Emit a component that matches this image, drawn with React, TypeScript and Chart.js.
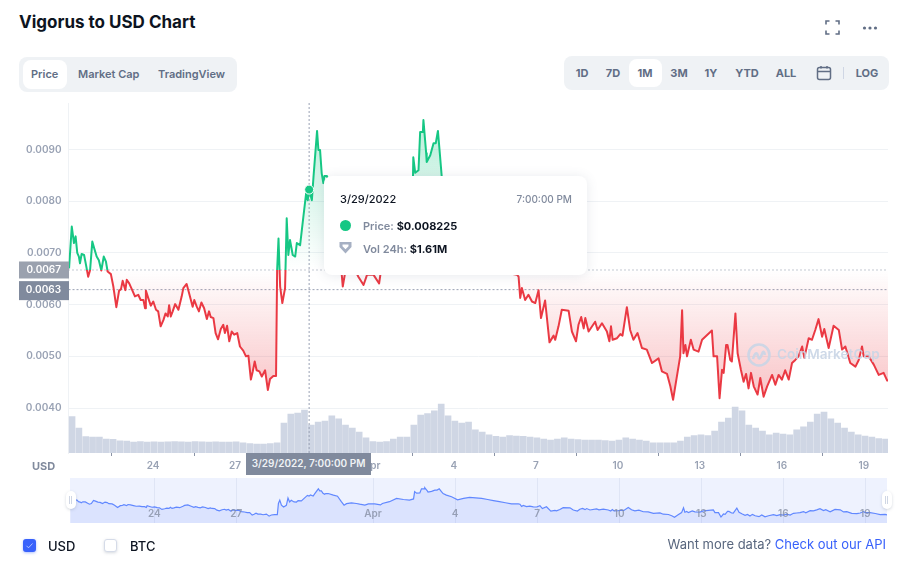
import React, { useEffect, useRef } from "react";
import { Chart, registerables } from "chart.js";

Chart.register(...registerables);

const FONT = "Inter, 'Noto Sans', sans-serif";

// Day numbers count on from March: 24 = Mar 24, 32 = Apr 1, 50 = Apr 19.
const priceDays = [
  20.93, 21.03, 21.11, 21.17, 21.23, 21.29, 21.33, 21.39, 21.48, 21.55, 21.63, 21.7, 21.78, 21.85, 21.94, 22.02, 22.11, 22.2, 22.28, 22.34,
  22.46, 22.55, 22.66, 22.76, 22.83, 22.89, 22.99, 23.04, 23.13, 23.24, 23.34, 23.46, 23.55, 23.65, 23.71, 23.74, 23.83, 23.92, 24.01, 24.11,
  24.19, 24.28, 24.38, 24.46, 24.54, 24.59, 24.65, 24.72, 24.81, 24.93, 25.05, 25.11, 25.23, 25.35, 25.45, 25.51, 25.6, 25.68, 25.77, 25.87,
  25.97, 26.05, 26.11, 26.21, 26.29, 26.38, 26.48, 26.57, 26.63, 26.71, 26.79, 26.88, 26.97, 27.08, 27.18, 27.3, 27.4, 27.49, 27.58, 27.65,
  27.72, 27.79, 27.89, 27.98, 28.1, 28.2, 28.28, 28.4, 28.5, 28.54, 28.59, 28.65, 28.73, 28.83, 28.89, 28.95, 29.01, 29.11, 29.2, 29.26,
  29.38, 29.5, 29.6, 29.66, 29.71, 29.81, 29.87, 30.0, 30.05, 30.11, 30.17, 30.23, 30.27, 30.36, 30.55, 30.7, 30.84, 30.91, 30.94, 31.03,
  31.21, 31.39, 31.51, 31.7, 31.83, 32.06, 32.27, 32.34, 32.6, 32.86, 33.11, 33.33, 33.48, 33.52, 33.59, 33.71, 33.77, 33.87, 33.89, 33.99,
  34.01, 34.14, 34.26, 34.34, 34.42, 34.5, 34.56, 34.68, 34.87, 35.09, 35.31, 35.53, 35.75, 35.97, 36.19, 36.4, 36.62, 36.84, 37.06, 37.31,
  37.37, 37.43, 37.49, 37.61, 37.73, 37.86, 37.98, 38.1, 38.19, 38.34, 38.5, 38.65, 38.71, 38.83, 38.95, 39.2, 39.32, 39.47, 39.56, 39.66,
  39.75, 39.81, 39.93, 40.17, 40.26, 40.42, 40.6, 40.69, 40.75, 40.81, 40.97, 41.09, 41.17, 41.33, 41.45, 41.57, 41.72, 41.88, 42.06, 42.25,
  42.49, 42.61, 42.8, 42.92, 43.02, 43.14, 43.28, 43.35, 43.4, 43.47, 43.53, 43.67, 43.77, 43.95, 44.08, 44.44, 44.5, 44.63, 44.72, 44.81,
  44.87, 44.96, 45.01, 45.11, 45.17, 45.3, 45.38, 45.5, 45.6, 45.69, 45.78, 45.87, 45.97, 46.11, 46.21, 46.33, 46.46, 46.64, 46.76, 46.88,
  47.0, 47.12, 47.25, 47.37, 47.49, 47.61, 47.74, 47.82, 47.98, 48.1, 48.22, 48.34, 48.47, 48.55, 48.71, 48.89, 49.08, 49.2, 49.32, 49.5,
  49.69, 49.81, 49.93, 49.99, 50.17, 50.36, 50.54, 50.72, 50.85, 50.89,
];

// Price in thousandths of a US dollar.
const priceMilli = [
  6.7, 7.51, 7.19, 7.32, 7.0, 6.93, 6.8, 6.98, 6.96, 6.77, 6.54, 6.67, 7.22, 7.09, 6.93, 6.86, 6.66, 6.93, 6.83, 6.64,
  6.59, 6.35, 5.95, 6.27, 6.3, 6.46, 6.28, 6.48, 6.41, 6.28, 6.16, 6.19, 6.09, 6.09, 5.93, 6.27, 6.12, 5.98, 6.06, 5.9,
  5.87, 5.58, 5.7, 5.83, 5.77, 5.99, 5.77, 5.87, 6.01, 5.9, 6.16, 6.32, 6.4, 6.16, 5.96, 6.09, 5.96, 5.87, 6.04, 5.93,
  5.72, 5.87, 5.76, 5.74, 5.45, 5.33, 5.53, 5.61, 5.45, 5.59, 5.29, 5.48, 5.42, 5.45, 5.19, 5.11, 5.0, 5.01, 4.55, 4.71,
  4.9, 4.73, 4.71, 4.61, 4.73, 4.35, 4.56, 4.62, 4.62, 6.67, 7.28, 6.35, 6.03, 6.32, 7.67, 6.96, 7.25, 6.96, 6.93, 7.19,
  7.15, 7.7, 8.15, 8.02, 8.225, 8.02, 8.47, 9.36, 8.99, 8.99, 8.54, 8.35, 8.49, 8.49, 8.2, 8.0, 7.0, 6.54, 6.35, 6.63,
  6.77, 6.67, 6.54, 6.38, 6.58, 6.58, 6.41, 6.67, 7.0, 7.6, 7.4, 7.3, 7.5, 8.85, 8.55, 8.6, 9.34, 9.34, 9.57, 8.93,
  8.76, 8.89, 9.12, 9.12, 9.36, 8.86, 8.47, 8.2, 7.9, 7.35, 7.6, 7.8, 7.7, 7.6, 7.4, 7.2, 7.0, 6.8, 6.6, 6.58,
  6.54, 6.13, 6.32, 6.09, 6.19, 6.06, 6.03, 6.28, 5.74, 6.08, 5.27, 5.4, 5.32, 5.58, 5.9, 5.88, 5.48, 5.29, 5.61, 5.76,
  5.54, 5.74, 5.48, 5.67, 5.51, 5.64, 5.48, 5.29, 5.58, 5.32, 5.35, 5.43, 5.4, 5.95, 5.51, 5.32, 5.45, 5.16, 5.13, 4.87,
  4.96, 4.71, 4.66, 4.42, 4.16, 4.55, 5.0, 5.89, 5.06, 5.22, 5.0, 5.32, 5.13, 5.09, 5.32, 5.5, 5.0, 5.0, 4.19, 4.74,
  4.68, 5.22, 5.22, 4.93, 4.9, 5.83, 5.06, 4.74, 4.51, 4.66, 4.38, 4.68, 4.42, 4.26, 4.58, 4.22, 4.42, 4.64, 4.45, 4.64,
  4.55, 4.73, 4.55, 4.87, 4.93, 5.0, 5.19, 4.97, 5.35, 5.32, 5.51, 5.72, 5.38, 5.53, 5.16, 5.59, 5.51, 5.13, 5.19, 4.87,
  4.8, 4.93, 5.19, 5.0, 5.0, 4.84, 4.64, 4.68, 4.53, 4.53,
];

// One volume bar every six hours, from the first day onward.
const volumeStartDay = 21.04;
const volumeStepDays = 0.25;
const volumeMillions = [
  1.95, 1.34, 0.88, 0.86, 0.86, 0.75, 0.73, 0.66, 0.64, 0.59, 0.62, 0.59, 0.6, 0.58, 0.6, 0.61, 0.6, 0.59, 0.61, 0.6,
  0.59, 0.6, 0.59, 0.58, 0.6, 0.55, 0.51, 0.48, 0.48, 0.5, 0.54, 1.61, 2.09, 2.15, 2.31, 1.5, 1.66, 1.72, 1.99, 1.83,
  1.5, 1.34, 1.13, 0.81, 0.61, 0.59, 0.62, 0.75, 0.86, 0.86, 1.5, 2.04, 2.12, 2.26, 2.63, 1.99, 1.72, 1.61, 1.66, 1.24,
  1.13, 0.97, 0.89, 0.86, 0.94, 0.91, 0.89, 0.86, 0.81, 0.75, 0.7, 0.75, 0.81, 0.75, 0.72, 0.7, 0.7, 0.7, 0.67, 0.64,
  0.7, 0.81, 0.75, 0.7, 0.64, 0.54, 0.54, 0.54, 0.54, 0.64, 0.86, 0.94, 0.97, 0.94, 1.18, 1.66, 1.88, 2.47, 2.26, 1.5,
  1.34, 1.18, 0.97, 1.07, 1.02, 0.97, 1.24, 1.4, 1.66, 2.09, 2.2, 1.83, 1.61, 1.34, 1.13, 0.97, 0.91, 0.86, 0.78, 0.75,
];

const priceTicks = [0.004, 0.005, 0.006, 0.007, 0.008, 0.009];
const dayTicks = [24, 27, 32, 35, 38, 41, 44, 47, 50];
const dayLabels = ["24", "27", "Apr", "4", "7", "10", "13", "16", "19"];
const basePrice = 0.00667;
const lastPrice = 0.00629;
const hoverDay = 29.71;
const hoverPrice = 0.008225;
const priceMin = 0.00313;
const priceMax = 0.0099;
const dayMin = 20.91;
const dayMax = 50.88;
const volumeMax = 18.8;
const navDayMin = 20.92;
const navDayMax = 50.79;
const navPriceMin = 0.0031;
const navPriceMax = 0.01133;
const rangeButtons = [
  ["1D", 582],
  ["7D", 613],
  ["1M", 645],
  ["3M", 679],
  ["1Y", 711],
  ["YTD", 747],
  ["ALL", 786],
] as const;

const GREEN = "#16C784";
const RED = "#EA3943";
const TICK = "#99A2B4";

const pricePoints = priceDays.map((x, i) => ({ x, y: priceMilli[i] / 1000 }));
const volumePoints = volumeMillions.map((y, i) => ({ x: volumeStartDay + i * volumeStepDays, y }));
const labelFor = (v: number) => {
  const i = dayTicks.indexOf(v);
  return i >= 0 ? dayLabels[i] : "";
};

const priceTagPlugin = {
  id: "priceTags",
  afterDraw(chart: any) {
    const { ctx, scales } = chart;
    const tags: [number, string, number, number][] = [
      [basePrice, "#9AA1AE", 8.5, 8.5],
      [lastPrice, "#808A9D", 8.5, 10.5],
    ];
    ctx.save();
    for (const [value, colour, up, down] of tags) {
      const y = scales.y.getPixelForValue(value);
      ctx.fillStyle = colour;
      ctx.fillRect(19, y - up, 50, up + down);
      ctx.fillStyle = "#fff";
      ctx.font = `600 10px ${FONT}`;
      ctx.textAlign = "right";
      ctx.textBaseline = "middle";
      ctx.fillText(value.toFixed(4), 61, y + 0.5);
    }
    ctx.restore();
  },
};

const text = (
  left: number,
  top: number,
  content: React.ReactNode,
  style: React.CSSProperties = {}
) => (
  <div
    style={{
      position: "absolute",
      left,
      top,
      whiteSpace: "nowrap",
      lineHeight: "16px",
      ...style,
    }}
  >
    {content}
  </div>
);

export default function App() {
  const mainRef = useRef<HTMLCanvasElement>(null);
  const navRef = useRef<HTMLCanvasElement>(null);

  useEffect(() => {
    const main = new Chart(mainRef.current!, {
      type: "line",
      plugins: [priceTagPlugin],
      data: {
        datasets: [
          {
            type: "line",
            data: [{ x: hoverDay, y: hoverPrice }],
            order: 0,
            showLine: false,
            pointRadius: 4.5,
            pointBackgroundColor: GREEN,
            pointBorderColor: "#fff",
            pointBorderWidth: 1,
          },
          {
            type: "line",
            data: pricePoints,
            order: 1,
            borderWidth: 2,
            borderColor: RED,
            pointRadius: 0,
            tension: 0,
            borderJoinStyle: "round",
            fill: false,
          },
          {
            type: "line",
            data: [
              { x: dayMin, y: basePrice },
              { x: dayMax, y: basePrice },
            ],
            order: 2,
            borderColor: "#8A93A6",
            borderWidth: 1,
            borderDash: [1, 3],
            pointRadius: 0,
          },
          {
            type: "line",
            data: [
              { x: dayMin, y: lastPrice },
              { x: dayMax, y: lastPrice },
            ],
            order: 2,
            borderColor: "#9AA2B4",
            borderWidth: 1,
            borderDash: [2, 2],
            pointRadius: 0,
          },
          {
            type: "line",
            data: [
              { x: hoverDay, y: priceMin },
              { x: hoverDay, y: priceMax },
            ],
            order: 2,
            borderColor: "#9AA2B4",
            borderWidth: 1,
            borderDash: [2, 2],
            pointRadius: 0,
          },
          {
            type: "bar",
            data: volumePoints,
            yAxisID: "y2",
            order: 5,
            backgroundColor: "#CFD6E4",
            barThickness: 6,
            grouped: false,
          },
        ],
      } as any,
      options: {
        responsive: false,
        animation: false,
        events: [],
        layout: { padding: { left: 0, right: 18, top: 103, bottom: 78 } },
        plugins: { legend: { display: false }, tooltip: { enabled: false } },
        scales: {
          x: {
            type: "linear",
            offset: false,
            min: dayMin,
            max: dayMax,
            afterBuildTicks: (s: any) => {
              s.ticks = dayTicks.map((value) => ({ value }));
            },
            afterFit: (s: any) => {
              s.height = 30;
            },
            grid: { drawOnChartArea: false, drawTicks: true, tickLength: 3, color: "#8A93A6" },
            border: { display: false },
            ticks: {
              autoSkip: false,
              maxRotation: 0,
              padding: 4,
              color: TICK,
              font: { family: FONT, size: 10, weight: 600 },
              callback: (v: any) => labelFor(v),
            },
          },
          y: {
            min: priceMin,
            max: priceMax,
            afterBuildTicks: (s: any) => {
              s.ticks = priceTicks.map((value) => ({ value }));
            },
            afterFit: (s: any) => {
              s.width = 68.5;
            },
            grid: { color: "#EFF2F5", drawTicks: false },
            border: { display: true, color: "#EFF2F5" },
            ticks: {
              padding: 7,
              color: TICK,
              font: { family: FONT, size: 10, weight: 600 },
              callback: (v: any) => Number(v).toFixed(4),
            },
          },
          y2: { display: false, min: 0, max: volumeMax },
        },
      } as any,
    });

    // Gradients need the finished scales, so they are applied in a second pass.
    const c = main.ctx;
    const { chartArea, scales } = main;
    const baseY = scales.y.getPixelForValue(basePrice);
    const stroke = c.createLinearGradient(0, chartArea.top, 0, chartArea.bottom);
    const stop = (baseY - chartArea.top) / (chartArea.bottom - chartArea.top);
    stroke.addColorStop(0, GREEN);
    stroke.addColorStop(stop, GREEN);
    stroke.addColorStop(stop, RED);
    stroke.addColorStop(1, RED);
    const above = c.createLinearGradient(0, scales.y.getPixelForValue(0.0096), 0, baseY);
    above.addColorStop(0, "rgba(22,199,132,0.3)");
    above.addColorStop(1, "rgba(22,199,132,0)");
    const below = c.createLinearGradient(0, baseY, 0, scales.y.getPixelForValue(0.0042));
    below.addColorStop(0, "rgba(234,57,67,0)");
    below.addColorStop(1, "rgba(234,57,67,0.3)");
    const ds = main.data.datasets[1] as any;
    ds.borderColor = stroke;
    ds.fill = { target: { value: basePrice }, above, below };
    main.update();

    const nav = new Chart(navRef.current!, {
      type: "line",
      data: {
        datasets: [
          {
            data: pricePoints,
            borderColor: "#6188FF",
            borderWidth: 1.2,
            pointRadius: 0,
            tension: 0,
            fill: "start",
            backgroundColor: "rgba(56,97,251,0.1)",
          },
        ],
      } as any,
      options: {
        responsive: false,
        animation: false,
        events: [],
        layout: { padding: { left: 70, right: 19, top: 0, bottom: 0 } },
        plugins: { legend: { display: false }, tooltip: { enabled: false } },
        scales: {
          x: {
            type: "linear",
            min: navDayMin,
            max: navDayMax,
            afterBuildTicks: (s: any) => {
              s.ticks = dayTicks.map((value) => ({ value }));
            },
            afterFit: (s: any) => {
              s.height = 0;
            },
            grid: { color: "rgba(190,200,225,0.3)", drawTicks: false },
            border: { display: false },
            ticks: {
              autoSkip: false,
              maxRotation: 0,
              mirror: true,
              padding: 3,
              z: 1,
              color: "rgba(128,138,157,0.75)",
              font: { family: FONT, size: 10, weight: 600 },
              callback: (v: any) => labelFor(v),
            },
          },
          y: { display: false, min: navPriceMin, max: navPriceMax },
        },
      } as any,
    });

    return () => {
      main.destroy();
      nav.destroy();
    };
  }, []);

  const tabStyle: React.CSSProperties = { fontSize: 11, fontWeight: 600, color: "#616E85" };
  const rangeStyle: React.CSSProperties = {
    fontSize: 11,
    fontWeight: 700,
    color: "#616E85",
    transform: "translateX(-50%)",
  };
  const handle = (left: number, width: number) => (
    <div
      style={{
        position: "absolute",
        left,
        top: 491,
        width,
        height: 18,
        background: "#fff",
        borderRadius: 5,
        boxShadow: "0 1px 3px rgba(88,102,126,0.25)",
      }}
    >
      <div style={{ position: "absolute", left: 3, top: 5, width: 1, height: 8, background: "#CFD6E4" }} />
      <div style={{ position: "absolute", left: 5, top: 5, width: 1, height: 8, background: "#CFD6E4" }} />
    </div>
  );

  return (
    <div
      style={{
        position: "fixed",
        left: 0,
        top: 0,
        width: 906,
        height: 561,
        overflow: "hidden",
        background: "#fff",
        fontFamily: FONT,
      }}
    >
      {text(19, 13, "Vigorus to USD Chart", { fontSize: 17, fontWeight: 700, color: "#0D1421", lineHeight: "18px" })}

      <svg style={{ position: "absolute", left: 825, top: 20 }} width="15" height="15" fill="none" stroke="#616E85" strokeWidth="1.6">
        <path d="M1 4.5V1H4.5M10.5 1H14V4.5M14 10.5V14H10.5M4.5 14H1V10.5" />
      </svg>
      <svg style={{ position: "absolute", left: 862, top: 25 }} width="16" height="6" fill="#616E85">
        <circle cx="2.5" cy="3" r="1.6" />
        <circle cx="8" cy="3" r="1.6" />
        <circle cx="13.5" cy="3" r="1.6" />
      </svg>

      <div style={{ position: "absolute", left: 19, top: 57, width: 218, height: 35, background: "#EFF2F5", borderRadius: 8 }} />
      <div style={{ position: "absolute", left: 23, top: 60, width: 44, height: 29, background: "#fff", borderRadius: 8 }} />
      {text(31, 66, "Price", tabStyle)}
      {text(78, 66, "Market Cap", tabStyle)}
      {text(158, 66, "TradingView", tabStyle)}

      <div style={{ position: "absolute", left: 564, top: 56, width: 325, height: 34, background: "#EFF2F5", borderRadius: 8 }} />
      <div style={{ position: "absolute", left: 629, top: 59, width: 33, height: 28, background: "#fff", borderRadius: 8 }} />
      {rangeButtons.map(([label, x]) => (
        <React.Fragment key={label}>{text(x, 65, label, rangeStyle)}</React.Fragment>
      ))}
      <svg style={{ position: "absolute", left: 816, top: 65 }} width="16" height="16" fill="none" stroke="#616E85" strokeWidth="1.5">
        <rect x="1.5" y="2.5" width="13" height="12" rx="2" />
        <path d="M1.5 6.5H14.5M5 1V3.5M11 1V3.5" />
      </svg>
      <div style={{ position: "absolute", left: 843, top: 67, width: 1, height: 12, background: "#CFD6E4" }} />
      {text(867, 65, "LOG", rangeStyle)}

      <canvas ref={mainRef} width={906} height={561} style={{ position: "absolute", left: 0, top: 0, width: 906, height: 561 }} />

      <svg style={{ position: "absolute", left: 747, top: 343, opacity: 0.9 }} width="24" height="24" fill="none" stroke="#C9D5E6" strokeWidth="2.6">
        <circle cx="12" cy="12" r="10.5" />
        <path d="M6 16C8 9 10 9 11 13C12 16.5 13 16.5 15 11C16 8 17 8 18 12" />
      </svg>
      {text(777, 346, "CoinMarketCap", { fontSize: 13.6, fontWeight: 600, color: "#C9D5E6", opacity: 0.9 })}

      <div
        style={{
          position: "absolute",
          left: 324,
          top: 176,
          width: 263,
          height: 99,
          background: "#fff",
          borderRadius: 8,
          boxShadow: "0 1px 12px rgba(88,102,126,0.14)",
        }}
      />
      {text(340, 191, "3/29/2022", { fontSize: 11, fontWeight: 500, color: "#0D1421" })}
      {text(572, 191, "7:00:00 PM", { fontSize: 10, fontWeight: 500, color: "#808A9D", transform: "translateX(-100%)" })}
      <div style={{ position: "absolute", left: 340, top: 220, width: 11, height: 11, borderRadius: "50%", background: GREEN }} />
      {text(
        363,
        218,
        <>
          <span style={{ color: "#808A9D" }}>Price: </span>
          <span style={{ color: "#0D1421", fontWeight: 700 }}>$0.008225</span>
        </>,
        { fontSize: 11, fontWeight: 600 }
      )}
      <svg style={{ position: "absolute", left: 339, top: 241 }} width="13" height="14" fill="#A6B0C3">
        <path fillRule="evenodd" d="M0.5 1H12.5V6L6.5 12.5L0.5 6ZM3.5 3.5V5.2L6.5 8.3L9.5 5.2V3.5Z" />
      </svg>
      {text(
        363,
        241,
        <>
          <span style={{ color: "#808A9D" }}>Vol 24h: </span>
          <span style={{ color: "#0D1421", fontWeight: 700 }}>$1.61M</span>
        </>,
        { fontSize: 11, fontWeight: 600 }
      )}

      {text(32, 458, "USD", { fontSize: 11, fontWeight: 700, color: "#808A9D" })}
      <div
        style={{
          position: "absolute",
          left: 246,
          top: 453,
          width: 125,
          height: 22,
          background: "#808A9D",
          color: "#EFF2F5",
          fontSize: 10,
          fontWeight: 600,
          lineHeight: "21px",
          textAlign: "center",
          whiteSpace: "nowrap",
        }}
      >
        3/29/2022, 7:00:00 PM
      </div>

      <div style={{ position: "absolute", left: 70, top: 478, width: 817, height: 45, background: "#EEF2FE" }} />
      <canvas ref={navRef} width={906} height={45} style={{ position: "absolute", left: 0, top: 478, width: 906, height: 45 }} />
      {handle(66, 10)}
      {handle(882, 10)}

      <div
        style={{
          position: "absolute",
          left: 23,
          top: 539,
          width: 13,
          height: 13,
          background: "#3861FB",
          borderRadius: 3,
          boxShadow: "0 1px 3px rgba(56,97,251,0.4)",
        }}
      >
        <svg width="13" height="13" fill="none" stroke="#C9D5FF" strokeWidth="0.8" style={{ display: "block" }}>
          <path d="M3.5 6.8L5.5 8.8L9.5 4.5" />
        </svg>
      </div>
      {text(48, 538, "USD", { fontSize: 13, fontWeight: 500, color: "#0D1421" })}
      <div
        style={{
          position: "absolute",
          left: 104,
          top: 539,
          width: 13,
          height: 13,
          background: "#fff",
          border: "1px solid #D5DBE8",
          boxSizing: "border-box",
          borderRadius: 3,
          boxShadow: "0 1px 3px rgba(88,102,126,0.25)",
        }}
      />
      {text(130, 538, "BTC", { fontSize: 13, fontWeight: 500, color: "#0D1421" })}
      {text(
        886,
        536,
        <>
          <span style={{ color: "#58667E" }}>Want more data? </span>
          <span style={{ color: "#3861FB" }}>Check out our API</span>
        </>,
        { fontSize: 13, fontWeight: 400, transform: "translateX(-100%)" }
      )}
    </div>
  );
}
